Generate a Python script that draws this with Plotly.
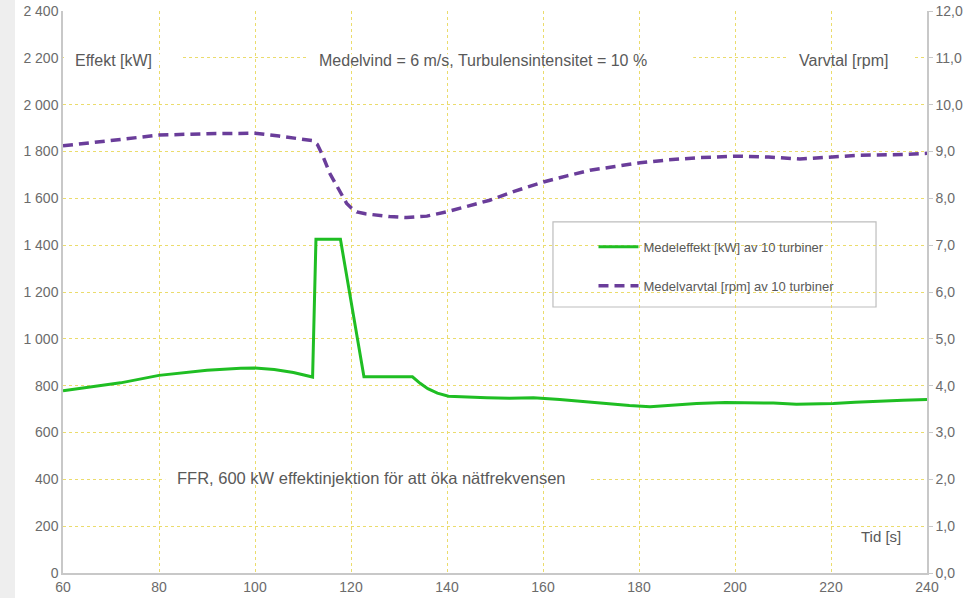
import plotly.graph_objects as go

# ---- data ----
t_power = [60, 65, 72, 80, 90, 97, 100, 104, 108, 112.0, 112.7, 117.8, 122.7, 132.8, 134.4, 136, 138,
           140.3, 144, 148.3, 153, 158, 163.5, 168, 173.3, 178, 182.3, 187, 192, 198, 203.8, 208,
           212.8, 217, 220.5, 225, 229.5, 235, 240]
power_kw = [778, 793, 812, 844, 866, 874, 875, 869, 856, 837, 1425, 1425, 838, 838, 810, 787, 768,
            755, 751, 748, 746, 748, 741, 733, 721, 715, 710, 716, 724, 728, 728, 726,
            721, 722, 724, 729, 734, 738, 741]

t_speed = [60, 70, 80, 90, 97, 100, 105, 110, 112.1, 113, 113.9, 115.6, 117.7, 119.1, 120, 121.2,
           123, 125.3, 128, 131.6, 135.8, 139.9, 144, 148.9, 154, 160.1, 165, 169.8, 175, 180.2,
           186, 192.7, 200.3, 207, 213.5, 220.1, 226, 233, 240]
speed_rpm = [9.12, 9.23, 9.35, 9.38, 9.40, 9.39, 9.33, 9.26, 9.23, 9.15, 8.96, 8.53, 8.14, 7.89, 7.80,
             7.71, 7.67, 7.64, 7.61, 7.59, 7.62, 7.71, 7.82, 7.96, 8.15, 8.35, 8.48, 8.60, 8.68,
             8.76, 8.82, 8.87, 8.90, 8.88, 8.84, 8.88, 8.92, 8.93, 8.96]

name_power = "Medeleffekt [kW] av 10 turbiner"
name_speed = "Medelvarvtal [rpm] av 10 turbiner"

x_ticks = [60, 80, 100, 120, 140, 160, 180, 200, 220, 240]

GREEN = "#1fbe23"
PURPLE = "#6a3d9a"
GRID = "#ebdc6c"
AXIS = "#c8c8c8"
TEXT = "#595959"
TICK = "#6b6b6b"
FONT = "Liberation Sans, Arial, sans-serif"

fig = go.Figure()
fig.add_trace(go.Scatter(x=t_power, y=power_kw, mode="lines", name=name_power,
                         line=dict(color=GREEN, width=3), legendgroup="a"))
fig.add_trace(go.Scatter(x=t_speed, y=speed_rpm, mode="lines", name=name_speed, yaxis="y2",
                         line=dict(color=PURPLE, width=3.5, dash="10px,6px"), legendgroup="b"))

shapes = [
    # light grey strip at the far left of the picture
    dict(type="rect", xref="paper", yref="paper", x0=-0.073, x1=-0.0556, y0=-0.045, y1=1.02,
         fillcolor="#eeeeee", line=dict(width=0), layer="below"),
    # white gaps in gridlines behind the text labels
    dict(type="rect", xref="x", yref="y", x0=60.2, x1=84.4, y0=2185, y1=2215,
         fillcolor="white", line=dict(width=0), layer="between"),
    dict(type="rect", xref="x", yref="y", x0=111.0, x1=191.3, y0=2185, y1=2215,
         fillcolor="white", line=dict(width=0), layer="between"),
    dict(type="rect", xref="x", yref="y", x0=211.0, x1=237.1, y0=2185, y1=2215,
         fillcolor="white", line=dict(width=0), layer="between"),
    dict(type="rect", xref="x", yref="y", x0=81.3, x1=169.8, y0=385, y1=415,
         fillcolor="white", line=dict(width=0), layer="between"),
    # legend box
    dict(type="rect", xref="paper", yref="paper", x0=0.5671, x1=0.941, y0=0.4733, y1=0.6246,
         fillcolor="white", line=dict(color="#bdbdbd", width=1.2), layer="between"),
]

ann_font = dict(family=FONT, size=16, color=TEXT)
annotations = [
    dict(x=70.5, y=2190, xref="x", yref="y", text="Effekt [kW]", showarrow=False, font=ann_font),
    dict(x=147.4, y=2190, xref="x", yref="y",
         text="Medelvind = 6 m/s, Turbulensintensitet = 10 %", showarrow=False, font=ann_font),
    dict(x=222.7, y=2190, xref="x", yref="y", text="Varvtal [rpm]", showarrow=False, font=ann_font),
    dict(x=124.3, y=405, xref="x", yref="y",
         text="FFR, 600 kW effektinjektion för att öka nätfrekvensen", showarrow=False,
         font=dict(family=FONT, size=16.5, color=TEXT)),
    dict(x=230.4, y=154, xref="x", yref="y", text="Tid [s]", showarrow=False,
         font=dict(family=FONT, size=15, color=TEXT)),
]

fig.update_layout(
    width=967, height=598,
    margin=dict(l=63, r=40, t=11, b=25, autoexpand=False),
    paper_bgcolor="white", plot_bgcolor="white",
    separators=", ",
    font=dict(family=FONT, size=14, color=TICK),
    shapes=shapes, annotations=annotations,
    showlegend=True,
    legend=dict(x=0.614, y=0.607, xanchor="left", yanchor="top",
                bgcolor="rgba(0,0,0,0)", borderwidth=0,
                font=dict(family=FONT, size=13, color=TEXT),
                itemwidth=40, traceorder="grouped", tracegroupgap=19),
    xaxis=dict(range=[60, 240], tickvals=x_ticks, showgrid=True, gridcolor=GRID, gridwidth=1,
               griddash="3px,3px", showline=True, linecolor=AXIS, linewidth=1.5,
               zeroline=False, ticks="", automargin=False, tickfont=dict(size=14, color=TICK)),
    yaxis=dict(range=[0, 2400], dtick=200, tickformat=",.0f", showgrid=True, gridcolor=GRID,
               gridwidth=1, griddash="3px,3px", showline=True, linecolor=AXIS, linewidth=1.5,
               zeroline=False, ticks="", automargin=False, tickfont=dict(size=14, color=TICK)),
    yaxis2=dict(range=[0, 12], dtick=1, tickformat=".1f", overlaying="y", side="right",
                showgrid=False, showline=True, linecolor=AXIS, linewidth=1.5, zeroline=False,
                ticks="outside", ticklen=4, tickcolor=AXIS, automargin=False,
                tickfont=dict(size=14, color=TICK)),
)

fig.write_html("out.html", config={"displayModeBar": False},
               post_script="document.body.style.margin='0';document.body.style.overflow='hidden';")
